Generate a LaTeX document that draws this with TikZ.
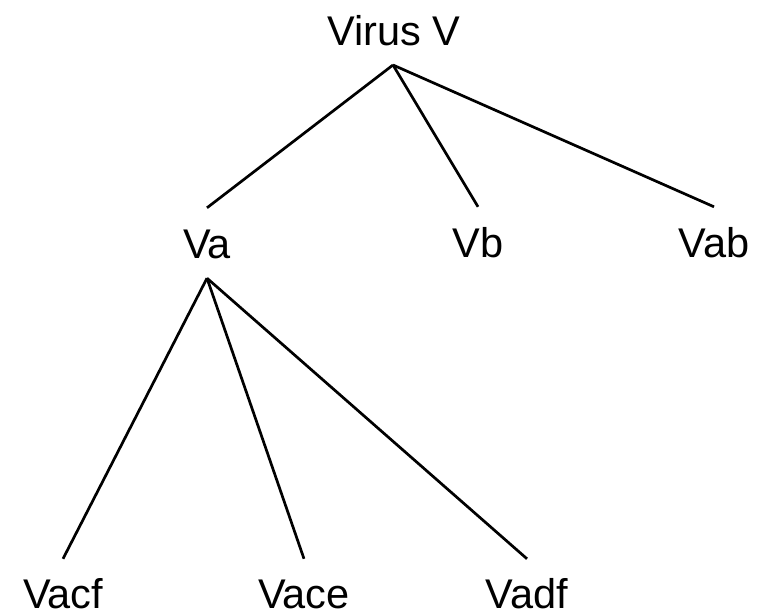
\documentclass[tikz,border=0pt]{standalone}
\usepackage{fontspec}
\setmainfont{Liberation Sans}
\begin{document}
\begin{tikzpicture}[x=1pt,y=-1pt,
  lbl/.style={anchor=base,font=\fontsize{41.5}{48}\selectfont,text height=30pt,text depth=0pt,inner xsep=0pt,inner ysep=20pt},
  lowlbl/.style={lbl,text height=49pt,text depth=1pt,inner ysep=0pt},
  edge/.style={line width=2.7pt}]
\useasboundingbox (0,0) rectangle (763,613);
\node[lbl] (v) at (394,45) {Virus V};
\node[lbl] (va) at (207,258) {Va};
\node[lbl] (vb) at (478,257) {Vb};
\node[lbl] (vab) at (714,257) {Vab};
\node[lowlbl] (vacf) at (63,608) {Vacf};
\node[lowlbl] (vace) at (304,608) {Vace};
\node[lowlbl] (vadf) at (527,608) {Vadf};
\coordinate (vtop) at (393,65);
\draw[edge] (vtop) -- (va.north);
\draw[edge] (vtop) -- (vb.north);
\draw[edge] (vtop) -- (vab.north);
\draw[edge] (va.south) -- (vacf.north);
\draw[edge] (va.south) -- (vace.north);
\draw[edge] (va.south) -- (vadf.north);
\end{tikzpicture}
\end{document}
